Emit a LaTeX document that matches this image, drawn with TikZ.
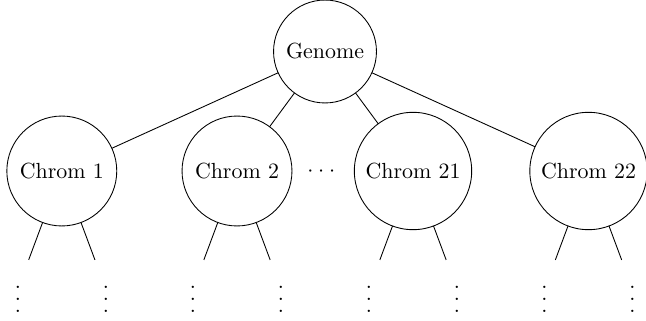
\documentclass[tikz,border=0pt]{standalone}
\newcommand\myvdots{\vbox{\baselineskip5.35pt\lineskiplimit0pt\hbox{.}\hbox{.}\hbox{.}}}
\newcommand\leafdots{\raisebox{-10.6pt}[6pt][6pt]{\myvdots}}
\begin{document}
\begin{tikzpicture}[x=0.4567pt,y=-0.4567pt,
  chrom/.style={circle,draw,inner sep=0pt,outer sep=0pt},
  small/.style={chrom,minimum size=50.2pt},
  big/.style={chrom,minimum size=53.6pt},
  leafnode/.style={circle,inner sep=0pt,outer sep=0pt,minimum size=28.4pt},
  link/.style={draw,line width=0.4pt}]
\useasboundingbox (0,0) rectangle (646,321);
\node[chrom,minimum size=47pt] (g) at (325,51.5) {Genome};
\node[small] (c1) at (61.8,171) {Chrom 1};
\node[small] (c2) at (237,171) {Chrom 2};
\node[big] (c21) at (413,171) {Chrom 21};
\node[big] (c22) at (588.5,171) {Chrom 22};
\node[anchor=base,inner sep=0pt] (dots) at (321.3,176.5) {$\cdot\cdot\cdot$};
\node[leafnode] (l1a) at (17.8,289) {\leafdots};
\node[leafnode] (l1b) at (105.8,289) {\leafdots};
\node[leafnode] (l2a) at (193,289) {\leafdots};
\node[leafnode] (l2b) at (281,289) {\leafdots};
\node[leafnode] (l21a) at (369,289) {\leafdots};
\node[leafnode] (l21b) at (457,289) {\leafdots};
\node[leafnode] (l22a) at (544.5,289) {\leafdots};
\node[leafnode] (l22b) at (632.5,289) {\leafdots};
\foreach \c in {c1,c2,c21,c22} \path[link] (g) -- (\c);
\foreach \c in {1,2,21,22} {
  \path[link] (c\c) -- (l\c a);
  \path[link] (c\c) -- (l\c b);
}
\end{tikzpicture}
\end{document}
